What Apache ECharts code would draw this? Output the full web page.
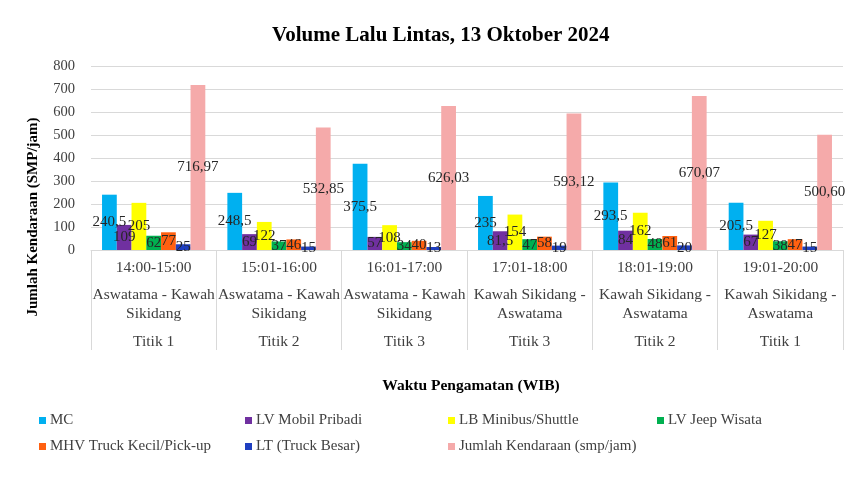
<!DOCTYPE html>
<html>
<head>
<meta charset="utf-8">
<script src="https://cdn.jsdelivr.net/npm/echarts@6/dist/echarts.min.js"></script>
<style>
  html, body { margin: 0; padding: 0; background: #fff; }
  #main { width: 851px; height: 479px; }
</style>
</head>
<body>
<div id="main"></div>
<script>
// kategori (waktu / rute / titik)
var waktu = ['14:00-15:00', '15:01-16:00', '16:01-17:00', '17:01-18:00', '18:01-19:00', '19:01-20:00'];
var rute = [
  ['Aswatama - Kawah', 'Sikidang'],
  ['Aswatama - Kawah', 'Sikidang'],
  ['Aswatama - Kawah', 'Sikidang'],
  ['Kawah Sikidang -', 'Aswatama'],
  ['Kawah Sikidang -', 'Aswatama'],
  ['Kawah Sikidang -', 'Aswatama']
];
var titik = ['Titik 1', 'Titik 2', 'Titik 3', 'Titik 3', 'Titik 2', 'Titik 1'];

// nilai per jenis kendaraan (SMP/jam)
var mc = [240.5, 248.5, 375.5, 235, 293.5, 205.5];
var lvMobil = [109, 69, 57, 81.5, 84, 67];
var lbMinibus = [205, 122, 108, 154, 162, 127];
var lvJeep = [62, 37, 34, 47, 48, 38];
var mhvTruck = [77, 46, 40, 58, 61, 47];
var ltTruck = [25, 15, 13, 19, 20, 15];
var jumlah = [716.97, 532.85, 626.03, 593.12, 670.07, 500.60];

var yTicks = [0, 100, 200, 300, 400, 500, 600, 700, 800];

var font = 'Liberation Serif';
var chart = echarts.init(document.getElementById('main'));

function koma(v, fix) {
  var s = fix ? v.toFixed(fix) : String(v);
  return s.replace('.', ',');
}

function seri(nama, data, warna, fix) {
  return {
    name: nama,
    type: 'bar',
    data: data,
    barGap: '0%',
    barCategoryGap: '17.6%',
    itemStyle: { color: warna },
    label: {
      show: true,
      position: 'inside',
      color: '#262626',
      fontFamily: font,
      fontSize: 15,
      formatter: function (p) { return koma(p.value, fix); }
    }
  };
}

var series = [
  seri('MC', mc, '#00b0f0'),
  seri('LV Mobil Pribadi', lvMobil, '#7030a0'),
  seri('LB Minibus/Shuttle', lbMinibus, '#ffff00'),
  seri('LV Jeep Wisata', lvJeep, '#00b050'),
  seri('MHV Truck Kecil/Pick-up', mhvTruck, '#ff6010'),
  seri('LT (Truck Besar)', ltTruck, '#1f3fc0'),
  seri('Jumlah Kendaraan (smp/jam)', jumlah, '#f5aaaa', 2)
];

// posisi legenda: 4 kolom, 2 baris
var legKiri = [34, 240, 443, 652];
var legAtas = [408, 434];
var legends = series.map(function (s, i) {
  return {
    left: legKiri[i % 4],
    top: legAtas[Math.floor(i / 4)],
    data: [s.name],
    itemWidth: 7,
    itemHeight: 7,
    itemGap: 0,
    icon: 'rect',
    textStyle: { fontFamily: font, fontSize: 15, color: '#404040', padding: [0, 0, 0, -1] }
  };
});

var option = {
  animation: false,
  title: {
    text: 'Volume Lalu Lintas, 13 Oktober 2024',
    left: 267,
    top: 20,
    textStyle: { fontFamily: font, fontSize: 21, fontWeight: 'bold', color: '#000' }
  },
  grid: { left: 91, right: 8, top: 66, bottom: 229 },
  legend: legends,
  graphic: [{
    type: 'text',
    x: 33,
    y: 217,
    rotation: Math.PI / 2,
    style: {
      text: 'Jumlah Kendaraan (SMP/jam)',
      fontFamily: font,
      fontSize: 15,
      fontWeight: 'bold',
      fill: '#000',
      align: 'center',
      verticalAlign: 'middle'
    }
  }],
  xAxis: {
    type: 'category',
    data: waktu,
    name: 'Waktu Pengamatan (WIB)',
    nameLocation: 'middle',
    nameGap: 128,
    nameTextStyle: { fontFamily: font, fontSize: 15.5, fontWeight: 'bold', color: '#000', padding: [0, 0, 0, 8] },
    axisLine: { lineStyle: { color: '#d9d9d9' } },
    axisTick: { show: true, interval: 0, length: 100, lineStyle: { color: '#d9d9d9' } },
    axisLabel: {
      interval: 0,
      margin: 8,
      formatter: function (v, i) {
        return '{a|' + v + '}\n{s| }\n{r|' + rute[i][0] + '}\n{r|' + rute[i][1] + '}\n{s2| }\n{a|' + titik[i] + '}';
      },
      rich: {
        a: { fontFamily: font, fontSize: 15.5, color: '#404040', lineHeight: 20 },
        r: { fontFamily: font, fontSize: 15.5, color: '#404040', lineHeight: 19 },
        s: { fontSize: 1, lineHeight: 7 },
        s2: { fontSize: 1, lineHeight: 9 }
      }
    }
  },
  yAxis: {
    type: 'value',
    min: yTicks[0],
    max: yTicks[yTicks.length - 1],
    interval: 100,
    axisLabel: { fontFamily: font, fontSize: 14.5, color: '#404040', margin: 16 },
    splitLine: { lineStyle: { color: '#d9d9d9' } }
  },
  series: series
};

chart.setOption(option);
</script>
</body>
</html>
